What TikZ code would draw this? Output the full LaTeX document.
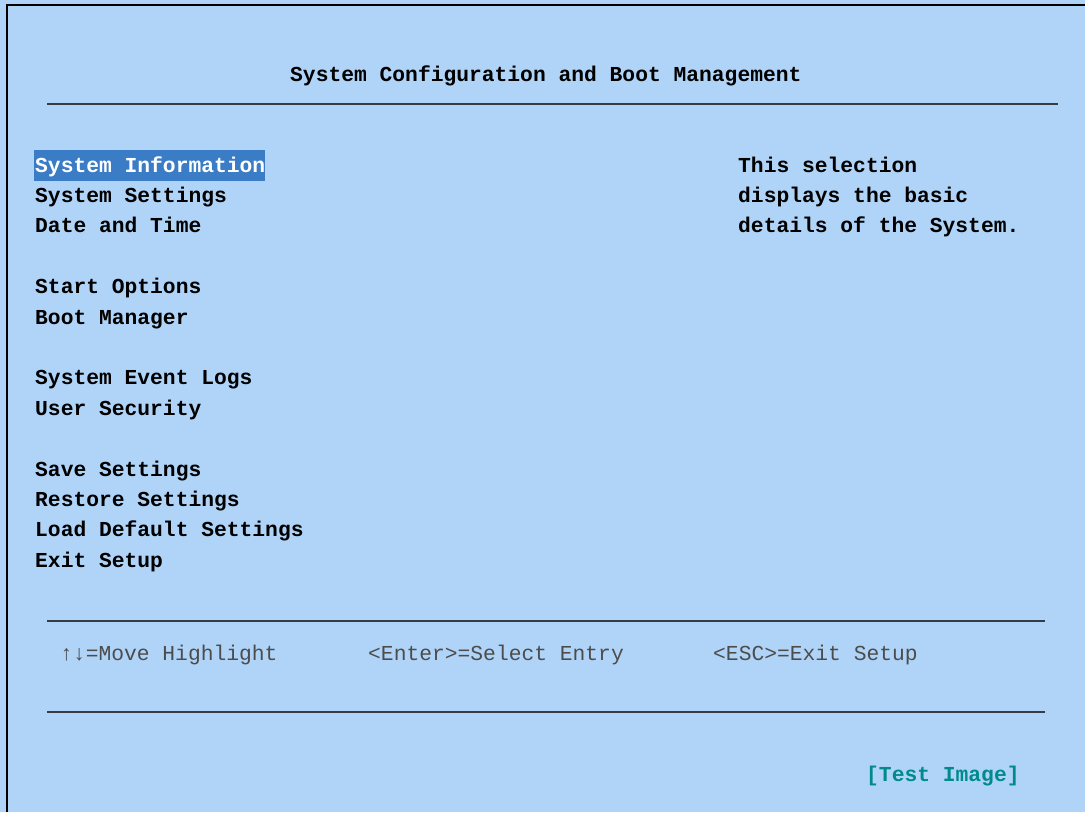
\documentclass[tikz,border=0pt]{standalone}
\usepackage{fontspec}
\setmonofont{Liberation Mono}
\usepackage{tikz}
\usepackage{xcolor}
\definecolor{biosbg}{HTML}{B0D4F8}
\definecolor{biossel}{HTML}{3A7CC6}
\definecolor{biosrule}{HTML}{353C44}
\definecolor{biosteal}{HTML}{008A8A}

\begin{document}
\begin{tikzpicture}[x=1pt, y=-1pt,
        every node/.style={anchor=base west, inner sep=0pt, font=\fontsize{21.3}{25}\selectfont\ttfamily\bfseries},
        hint/.style={text=black!70, font=\fontsize{21.3}{25}\selectfont\ttfamily},
        rule/.style={biosrule, line width=2pt}
      ]
      \useasboundingbox (0,0) rectangle (1085,812);
      \fill[biosbg] (0,0) rectangle (1085,812);
      \draw[black, line width=1.6pt] (7,812) -- (7,5) -- (1085,5);
      % title
      \node (title) at (290,81) {System Configuration and Boot Management};
      \draw[rule] (47,104) -- (1058,104);
      % menu
      \fill[biossel] (34,150) rectangle (265,181);
      \node[text=white] (sysinfo) at (35,172)   {System Information};
      \node (sysset)   at (35,202.4) {System Settings};
      \node (datetime) at (35,232.8) {Date and Time};
      \node (startopt) at (35,293.6) {Start Options};
      \node (bootmgr)  at (35,324)   {Boot Manager};
      \node (evlogs)   at (35,384.8) {System Event Logs};
      \node (usersec)  at (35,415.2) {User Security};
      \node (savesets) at (35,476)   {Save Settings};
      \node (restsets) at (35,506.4) {Restore Settings};
      \node (loaddef)  at (35,536.8) {Load Default Settings};
      \node (exitset)  at (35,567.2) {Exit Setup};
      % help text
      \node (help1) at (738,172)   {This selection};
      \node (help2) at (738,202.4) {displays the basic};
      \node (help3) at (738,232.8) {details of the System.};
      % footer
      \draw[rule] (47,621) -- (1045,621);
      \node[hint] (keymove)  at (60,660)  {↑↓=Move Highlight};
      \node[hint] (keyenter) at (368,660) {<Enter>=Select Entry};
      \node[hint] (keyesc)   at (713,660) {<ESC>=Exit Setup};
      \draw[rule] (47,712) -- (1045,712);
      \node[text=biosteal] (testimg) at (866,781) {[Test Image]};
    \end{tikzpicture}
\end{document}
